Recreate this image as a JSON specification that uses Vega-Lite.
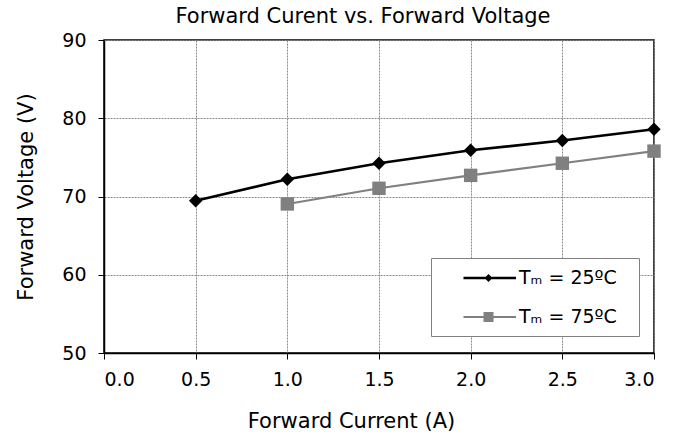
{
  "$schema": "https://vega.github.io/schema/vega-lite/v6.json",
  "autosize": {"type": "none"},
  "padding": {"left": 104, "top": 40, "right": 32, "bottom": 86},
  "width": 550,
  "height": 313,
  "background": "white",
  "title": {
    "text": "Forward Curent vs. Forward Voltage",
    "font": "DejaVu Sans",
    "fontSize": 21,
    "fontWeight": "normal",
    "color": "black",
    "anchor": "middle",
    "dx": -16,
    "offset": 4
  },
  "config": {
    "view": {"stroke": "black", "strokeWidth": 1.5},
    "axis": {
      "domainColor": "black",
      "domainWidth": 1.5,
      "tickColor": "black",
      "tickWidth": 1,
      "tickSize": 6,
      "gridColor": "#8a8a8a",
      "gridDash": [2, 1],
      "gridWidth": 1,
      "labelFont": "DejaVu Sans",
      "labelFontSize": 19,
      "labelColor": "black",
      "titleFont": "DejaVu Sans",
      "titleFontSize": 21,
      "titleFontWeight": "normal",
      "titleColor": "black"
    }
  },
  "data": {
    "values": [
      {"I": 0.5, "V": 69.45, "s": "Tₘ = 25ºC"},
      {"I": 1.0, "V": 72.2, "s": "Tₘ = 25ºC"},
      {"I": 1.5, "V": 74.25, "s": "Tₘ = 25ºC"},
      {"I": 2.0, "V": 75.9, "s": "Tₘ = 25ºC"},
      {"I": 2.5, "V": 77.15, "s": "Tₘ = 25ºC"},
      {"I": 3.0, "V": 78.6, "s": "Tₘ = 25ºC"},
      {"I": 1.0, "V": 69.05, "s": "Tₘ = 75ºC"},
      {"I": 1.5, "V": 71.05, "s": "Tₘ = 75ºC"},
      {"I": 2.0, "V": 72.7, "s": "Tₘ = 75ºC"},
      {"I": 2.5, "V": 74.25, "s": "Tₘ = 75ºC"},
      {"I": 3.0, "V": 75.8, "s": "Tₘ = 75ºC"}
    ]
  },
  "encoding": {
    "x": {
      "field": "I",
      "type": "quantitative",
      "scale": {"domain": [0, 3], "nice": false, "zero": false},
      "axis": {
        "title": "Forward Current (A)",
        "values": [0, 0.5, 1, 1.5, 2, 2.5, 3],
        "format": ".1f",
        "labelPadding": 11,
        "titleX": 247,
        "titleY": 74,
        "titleBaseline": "alphabetic",
        "titleAnchor": "middle",
        "titleAlign": "center"
      }
    },
    "y": {
      "field": "V",
      "type": "quantitative",
      "scale": {"domain": [50, 90], "nice": false, "zero": false},
      "axis": {
        "title": "Forward Voltage (V)",
        "values": [50, 60, 70, 80, 90],
        "labelPadding": 12,
        "titleX": -72,
        "titleY": 156.5,
        "titleBaseline": "alphabetic",
        "titleAngle": -90,
        "titleAlign": "center"
      }
    },
    "color": {
      "field": "s",
      "type": "nominal",
      "scale": {"domain": ["Tₘ = 25ºC", "Tₘ = 75ºC"], "range": ["#000000", "#808080"]},
      "legend": {
        "title": null,
        "orient": "none",
        "legendX": 327,
        "legendY": 218,
        "strokeColor": "#808080",
        "fillColor": "white",
        "padding": 9,
        "rowPadding": 18,
        "symbolSize": 484,
        "symbolStrokeWidth": 0,
        "labelOffset": 57,
        "labelFont": "DejaVu Sans",
        "labelFontSize": 19,
        "labelColor": "black",
        "encode": {
          "symbols": {
            "update": {
              "shape": {"signal": "datum.value === 'Tₘ = 25ºC' ? 'M1.136,-0.114H5.909V0.114H1.136Z M3.41,-0.36L3.77,0L3.41,0.36L3.05,0Z M16.2,0' : 'M1.136,-0.09H5.909V0.09H1.136Z M2.955,-0.455H3.865V0.455H2.955Z M16.2,0'"},
              "fill": {"signal": "datum.value === 'Tₘ = 25ºC' ? '#000000' : '#808080'"},
              "fillOpacity": {"value": 1},
              "stroke": {"value": "transparent"},
              "strokeWidth": {"value": 0},
              "opacity": {"value": 1}
            }
          }
        }
      }
    }
  },
  "layer": [
    {
      "transform": [{"filter": {"field": "s", "equal": "Tₘ = 25ºC"}}],
      "mark": {"type": "line", "strokeWidth": 2.6}
    },
    {
      "transform": [{"filter": {"field": "s", "equal": "Tₘ = 75ºC"}}],
      "mark": {"type": "line", "strokeWidth": 2.1}
    },
    {
      "transform": [{"filter": {"field": "s", "equal": "Tₘ = 25ºC"}}],
      "mark": {"type": "point", "shape": "diamond", "filled": true, "opacity": 1, "size": 180}
    },
    {
      "transform": [{"filter": {"field": "s", "equal": "Tₘ = 75ºC"}}],
      "mark": {"type": "point", "shape": "square", "filled": true, "opacity": 1, "size": 180}
    }
  ]
}
